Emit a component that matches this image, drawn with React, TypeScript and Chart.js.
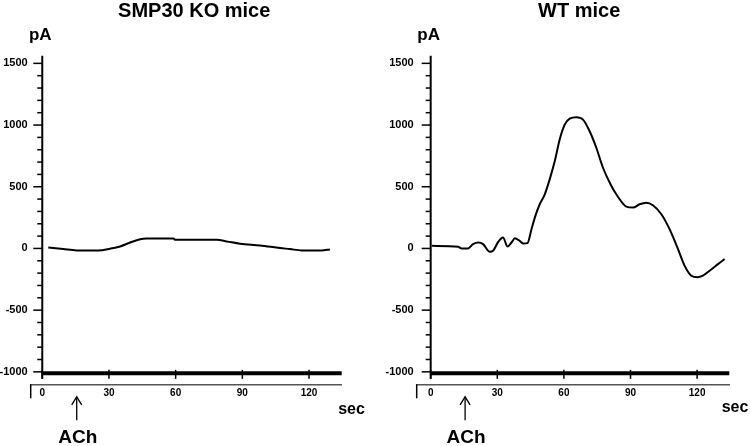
import React, { useEffect, useRef } from 'react';
import { Chart, registerables } from 'chart.js';

Chart.register(...registerables);

// ---- data ----
const X_TICKS = [0, 30, 60, 90, 120];
const Y_LABEL_TICKS = [-1000, -500, 0, 500, 1000, 1500];
const Y_MINOR_TICKS = [-1000, -900, -800, -700, -600, -500, -400, -300, -200, -100, 0, 100, 200, 300, 400, 500, 600, 700, 800, 900, 1000, 1100, 1200, 1300, 1400, 1500];
const ACH_TIME = 15.5;
const BASELINE_VALUE = -1000;

const KO_TIME = [2.7, 9.4, 15.5, 25.2, 30.5, 35, 39.5, 44, 47, 59, 59.7, 78.5, 83, 89, 98, 107, 111.4, 116.7, 125.7, 129.4];
const KO_CURRENT = [8, -5, -16, -16, -2, 16, 48, 75, 80, 80, 70, 70, 57, 38, 24, 3, -5, -16, -16, -8];

const WT_TIME = [0.5, 12.4, 13.9, 16.8, 19.1, 21.4, 23.6, 26.6, 28.1, 30.4, 32.6, 34.6, 36.4, 37.9, 40.1, 41.6, 43.6, 45.4, 46.9, 49.1, 51.4, 53.6, 55.9, 58.1, 60.4, 62.6, 65.6, 68.6, 71.6, 74.6, 77.6, 81.4, 84.4, 88.1, 91.1, 94.1, 97.1, 100.1, 103.9, 107.6, 111.4, 114.4, 117.4, 120.1, 122.6, 125.6, 129.4, 132.4];
const WT_CURRENT = [21, 13, 0, 0, 35, 48, 35, -27, -19, 53, 89, 16, 48, 83, 61, 40, 43, 156, 250, 358, 439, 560, 708, 883, 1004, 1052, 1063, 1044, 950, 816, 654, 506, 417, 339, 331, 358, 371, 350, 277, 156, -6, -141, -221, -234, -221, -181, -127, -86];

const Y_MIN = -1101;
const Y_MAX = 1562;

type Panel = {
  title: string;
  times: number[];
  values: number[];
  xMin: number;
  xMax: number;
  leftW: number;
  rightPad: number;
  titleX: number;
  secDx: number;
  secY: number;
};

const PANELS: Panel[] = [
  { title: 'SMP30 KO mice', times: KO_TIME, values: KO_CURRENT, xMin: -5.2, xMax: 134.7, leftW: 30.7, rightPad: 33.3, titleX: 194.2, secDx: 9.8, secY: 413.5 },
  { title: 'WT mice', times: WT_TIME, values: WT_CURRENT, xMin: -6.3, xMax: 134.5, leftW: 41.7, rightPad: 20.7, titleX: 204.2, secDx: 5.7, secY: 412 },
];

const FONT = "'Liberation Sans', Arial, Helvetica, sans-serif";
const W = 375;
const H = 446;

function line(ctx: CanvasRenderingContext2D, x1: number, y1: number, x2: number, y2: number) {
  ctx.beginPath();
  ctx.moveTo(x1, y1);
  ctx.lineTo(x2, y2);
  ctx.stroke();
}

function makeDecor(panel: Panel) {
  return {
    id: 'decor',
    afterDraw(chart: any) {
      const { ctx, chartArea: a } = chart;
      const xs = chart.scales.x;
      const ys = chart.scales.y;
      const x0 = xs.getPixelForValue(0);
      const yBase = ys.getPixelForValue(BASELINE_VALUE);
      ctx.save();
      ctx.strokeStyle = '#000';
      ctx.fillStyle = '#000';
      ctx.lineCap = 'butt';

      // y axis line
      ctx.lineWidth = 2;
      line(ctx, x0, a.top, x0, yBase + 7);
      // y ticks
      ctx.lineWidth = 1.5;
      for (const v of Y_MINOR_TICKS) {
        const py = ys.getPixelForValue(v);
        const len = v % 500 === 0 ? 9 : 5;
        line(ctx, x0 - len, py, x0, py);
      }
      // thick baseline
      ctx.lineWidth = 4;
      line(ctx, x0, yBase + 1.5, a.right, yBase + 1.5);
      // x ticks
      ctx.lineWidth = 1.5;
      for (const t of X_TICKS) {
        const px = xs.getPixelForValue(t);
        line(ctx, px, yBase - 2, px, yBase + 7);
      }
      // bracket at left end of x axis
      line(ctx, a.left, a.bottom, a.left, a.bottom + 14);

      // ACh arrow
      const ax = xs.getPixelForValue(ACH_TIME);
      const tip = a.bottom + 12.5;
      ctx.lineWidth = 1.3;
      line(ctx, ax, tip, ax, a.bottom + 36);
      ctx.beginPath();
      ctx.moveTo(ax - 5, tip + 8);
      ctx.lineTo(ax, tip);
      ctx.lineTo(ax + 5, tip + 8);
      ctx.stroke();

      // texts
      ctx.textAlign = 'center';
      ctx.textBaseline = 'alphabetic';
      ctx.font = `bold 20px ${FONT}`;
      ctx.fillText(panel.title, panel.titleX, 16.5);
      ctx.font = `bold 17px ${FONT}`;
      ctx.fillText('pA', x0 - 2, 39.5);
      ctx.font = `bold 16px ${FONT}`;
      ctx.fillText('sec', a.right + panel.secDx, panel.secY);
      ctx.font = `bold 19px ${FONT}`;
      ctx.fillText('ACh', ax + 1, 443);
      ctx.restore();
    },
  };
}

function PanelChart({ panel, left }: { panel: Panel; left: number }) {
  const ref = useRef<HTMLCanvasElement | null>(null);
  useEffect(() => {
    if (!ref.current) return;
    const data = panel.times.map((t, i) => ({ x: t, y: panel.values[i] }));
    const chart = new Chart(ref.current, {
      type: 'line',
      data: {
        datasets: [
          {
            data,
            borderColor: '#000',
            borderWidth: 2,
            pointRadius: 0,
            cubicInterpolationMode: 'monotone',
            fill: false,
          },
        ],
      },
      options: {
        animation: false,
        responsive: false,
        devicePixelRatio: 1,
        parsing: false as any,
        layout: { padding: { top: 55.7, right: panel.rightPad, left: 0, bottom: 0 } },
        plugins: { legend: { display: false }, tooltip: { enabled: false }, title: { display: false } },
        scales: {
          x: {
            type: 'linear',
            min: panel.xMin,
            max: panel.xMax,
            afterBuildTicks: (s: any) => {
              s.ticks = X_TICKS.map((v) => ({ value: v }));
            },
            afterFit: (s: any) => {
              s.height = H - 384.3;
            },
            grid: { display: false, drawTicks: false },
            border: { display: true, color: '#555', width: 1.5, dash: [1.5, 1.5] },
            ticks: {
              padding: 2.5,
              autoSkip: false,
              maxRotation: 0,
              color: '#000',
              font: { family: FONT, size: 10, weight: 'bold' },
              callback: (v: any) => String(v),
            },
          },
          y: {
            type: 'linear',
            min: Y_MIN,
            max: Y_MAX,
            afterBuildTicks: (s: any) => {
              s.ticks = Y_LABEL_TICKS.map((v) => ({ value: v }));
            },
            afterFit: (s: any) => {
              s.width = panel.leftW;
            },
            grid: { display: false, drawTicks: false },
            border: { display: false },
            ticks: {
              padding: 3,
              color: '#000',
              font: { family: FONT, size: 11, weight: 'bold' },
              callback: (v: any) => String(v),
            },
          },
        },
      } as any,
      plugins: [makeDecor(panel)],
    });
    return () => chart.destroy();
  }, [panel]);
  return (
    <div style={{ position: 'absolute', left, top: 0, width: W, height: H }}>
      <canvas ref={ref} width={W} height={H} style={{ width: W, height: H, display: 'block' }} />
    </div>
  );
}

export default function App() {
  return (
    <div style={{ position: 'fixed', left: 0, top: 0, width: 750, height: 446, background: '#fff', overflow: 'hidden' }}>
      <PanelChart panel={PANELS[0]} left={0} />
      <PanelChart panel={PANELS[1]} left={375} />
    </div>
  );
}
